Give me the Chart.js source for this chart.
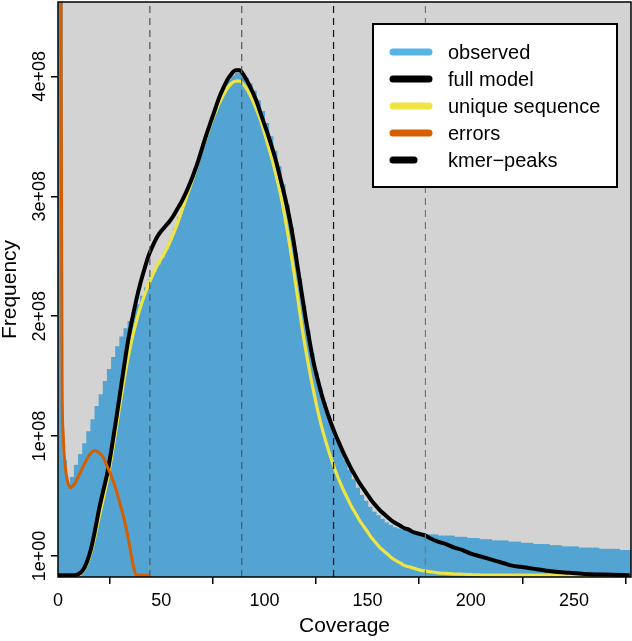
<!DOCTYPE html>
<html lang="en">
<head>
<meta charset="UTF-8">
<title>k-mer profile</title>
<script src="https://cdn.jsdelivr.net/npm/chart.js"></script>
<style>
  html, body { margin: 0; padding: 0; background: #fff; }
  canvas { display: block; }
</style>
</head>
<body>
<canvas id="profile" width="632" height="641"></canvas>
<script>
  // frequencies are given in units of 1e8
  const obsCov = [1, 3, 5, 7, 9, 11, 13, 15, 17, 19, 21, 23, 25, 27, 29, 31, 33, 35, 37, 39,
    41, 43, 45, 47, 49, 51, 53, 55, 57, 59, 61, 63, 65, 67, 69, 71, 73, 75, 77, 79,
    81, 83, 85, 87, 89, 91, 93, 95, 97, 99, 101, 103, 105, 107, 109, 111, 113, 115, 117, 119,
    121, 123, 125, 127, 129, 131, 133, 135, 137, 139, 141, 143, 145, 147, 149, 151, 153, 155, 157, 159,
    161, 163, 165, 167, 169, 171, 173, 175, 177, 179, 181, 183, 185, 187, 189, 191, 193, 195, 197, 199,
    201, 203, 205, 207, 209, 211, 213, 215, 217, 219, 221, 223, 225, 227, 229, 231, 233, 235, 237, 239,
    241, 243, 245, 247, 249, 251, 253, 255, 257, 259, 261, 263, 265, 267, 269, 271, 273, 275, 277];
  const obsFreq = [20, 0.8, 0.6, 0.66, 0.76, 0.85, 0.94, 1.04, 1.14, 1.25, 1.35, 1.46, 1.56, 1.66, 1.75, 1.83, 1.9, 1.96, 2.03, 2.1,
    2.17, 2.24, 2.31, 2.37, 2.43, 2.49, 2.56, 2.64, 2.73, 2.83, 2.93, 3.03, 3.13, 3.23, 3.34, 3.45, 3.56, 3.66, 3.75, 3.84,
    3.91, 3.97, 4.01, 4.03, 4.02, 3.99, 3.94, 3.88, 3.8, 3.71, 3.61, 3.5, 3.38, 3.25, 3.1, 2.93, 2.74, 2.53, 2.31, 2.09,
    1.88, 1.69, 1.53, 1.4, 1.28, 1.17, 1.07, 0.98, 0.89, 0.8, 0.72, 0.64, 0.57, 0.51, 0.46, 0.41, 0.37, 0.34, 0.31, 0.28,
    0.26, 0.24, 0.23, 0.22, 0.21, 0.2, 0.2, 0.19, 0.19, 0.18, 0.18, 0.18, 0.17, 0.17, 0.17, 0.17, 0.16, 0.16, 0.16, 0.15,
    0.15, 0.15, 0.14, 0.14, 0.14, 0.13, 0.13, 0.13, 0.13, 0.12, 0.12, 0.12, 0.11, 0.11, 0.11, 0.1, 0.1, 0.1, 0.1, 0.09,
    0.09, 0.09, 0.08, 0.08, 0.08, 0.08, 0.07, 0.07, 0.07, 0.07, 0.07, 0.06, 0.06, 0.06, 0.06, 0.06, 0.05, 0.05, 0.05];

  const modelCov = [0, 4, 8, 10, 12, 14, 16, 18, 20, 22, 24, 26, 28, 30, 32, 34, 36, 38, 40, 42,
    44, 46, 48, 50, 52, 54, 56, 58, 60, 62, 64, 66, 68, 70, 72, 74, 76, 78, 80, 82,
    84, 86, 88, 90, 92, 94, 96, 98, 100, 102, 104, 106, 108, 110, 112, 114, 116, 118, 120, 122,
    124, 126, 128, 130, 132, 134, 136, 138, 140, 142, 144, 146, 148, 150, 152, 154, 156, 158, 160, 162,
    164, 166, 168, 170, 172, 174, 176, 178, 180, 184, 188, 192, 196, 200, 204, 208, 212, 216, 220, 224,
    228, 232, 236, 240, 248, 256, 264, 277];
  const fullFreq = [-0.16, -0.16, -0.16, -0.15, -0.12, -0.05, 0.06, 0.22, 0.4, 0.55, 0.7, 0.9, 1.12, 1.35, 1.58, 1.8, 1.98, 2.14, 2.28, 2.4,
    2.51, 2.59, 2.66, 2.71, 2.75, 2.79, 2.84, 2.9, 2.96, 3.03, 3.11, 3.2, 3.3, 3.41, 3.52, 3.62, 3.72, 3.82, 3.9, 3.97,
    4.02, 4.05, 4.05, 4.01, 3.95, 3.88, 3.8, 3.7, 3.6, 3.5, 3.39, 3.27, 3.13, 2.99, 2.83, 2.64, 2.42, 2.2, 1.98, 1.78,
    1.6, 1.46, 1.33, 1.22, 1.12, 1.03, 0.95, 0.87, 0.8, 0.73, 0.67, 0.61, 0.56, 0.51, 0.46, 0.42, 0.38, 0.35, 0.32, 0.29,
    0.27, 0.25, 0.23, 0.22, 0.2, 0.19, 0.18, 0.17, 0.15, 0.12, 0.1, 0.07, 0.05, 0.02, 0.0, -0.02, -0.04, -0.06, -0.08, -0.09,
    -0.1, -0.11, -0.12, -0.13, -0.14, -0.15, -0.155, -0.16];
  const uniqFreq = [-0.16, -0.16, -0.16, -0.16, -0.13, -0.07, 0.03, 0.17, 0.33, 0.48, 0.64, 0.83, 1.04, 1.26, 1.47, 1.66, 1.82, 1.96, 2.08, 2.18,
    2.27, 2.35, 2.42, 2.48, 2.54, 2.61, 2.69, 2.78, 2.88, 2.98, 3.08, 3.18, 3.29, 3.4, 3.5, 3.6, 3.69, 3.77, 3.84, 3.9,
    3.94, 3.96, 3.96, 3.93, 3.88, 3.81, 3.73, 3.64, 3.53, 3.41, 3.29, 3.15, 3.0, 2.82, 2.62, 2.4, 2.17, 1.93, 1.72, 1.53,
    1.36, 1.2, 1.06, 0.94, 0.83, 0.73, 0.64, 0.56, 0.49, 0.42, 0.36, 0.3, 0.25, 0.2, 0.15, 0.11, 0.07, 0.04, 0.01, -0.02,
    -0.04, -0.06, -0.08, -0.09, -0.1, -0.11, -0.12, -0.125, -0.13, -0.14, -0.145, -0.15, -0.152, -0.155, -0.158, -0.16, -0.16, -0.16, -0.16, -0.16,
    -0.16, -0.16, -0.16, -0.16, -0.16, -0.16, -0.16, -0.16];

  const errCov = [1, 1.5, 2, 2.5, 3, 4, 5, 6, 7, 8, 10, 12, 14, 16, 18, 20, 22, 24, 26, 28, 30, 32, 34, 36, 37, 38, 40, 42, 44];
  const errFreq = [12, 4, 1.4, 1.02, 0.84, 0.68, 0.6, 0.57, 0.58, 0.6, 0.67, 0.74, 0.81, 0.86, 0.88, 0.86, 0.82, 0.74, 0.66, 0.56,
    0.44, 0.31, 0.15, -0.04, -0.12, -0.16, -0.16, -0.16, -0.16];

  const peakCov = [44.5, 89, 133.5, 178];
  const peakColors = ['#555555', '#555555', '#111111', '#777777'];

  const xTicks = [0, 50, 100, 150, 200, 250];
  const yTicks = [0, 1, 2, 3, 4];
  const yTickLabels = ['1e+00', '1e+08', '2e+08', '3e+08', '4e+08'];

  const legendNames = ['observed', 'full model', 'unique sequence', 'errors', 'kmer\u2212peaks'];
  const legendColors = ['#56B4E9', '#000000', '#F0E442', '#D55E00', '#000000'];

  const Y_MIN = -0.175, Y_MAX = 4.62, X_MAX = 277.6;
  const FONT = "'Liberation Sans', Arial, Helvetica, sans-serif";
  Chart.defaults.font.family = FONT;

  const toPoints = (xs, ys) => xs.map((x, i) => ({ x: x, y: ys[i] }));

  // grey panel, box, rotated y labels and the legend
  const frame = {
    id: 'frame',
    beforeDatasetsDraw(chart) {
      const { ctx, chartArea: a } = chart;
      ctx.save();
      ctx.fillStyle = '#d3d3d3';
      ctx.fillRect(a.left, a.top, a.right - a.left, a.bottom - a.top);
      ctx.restore();
    },
    afterDraw(chart) {
      const { ctx, chartArea: a } = chart;
      const ys = chart.scales.y;
      ctx.save();
      ctx.strokeStyle = '#000';
      ctx.lineWidth = 1.5;
      ctx.strokeRect(a.left, a.top, a.right - a.left, a.bottom - a.top);

      ctx.fillStyle = '#000';
      ctx.font = '18px ' + FONT;
      ctx.textAlign = 'center';
      ctx.textBaseline = 'alphabetic';
      yTicks.forEach((v, i) => {
        ctx.save();
        ctx.translate(45, ys.getPixelForValue(v));
        ctx.rotate(-Math.PI / 2);
        ctx.fillText(yTickLabels[i], 0, 0);
        ctx.restore();
      });

      // legend box
      const L = { left: 373, top: 24, right: 617, bottom: 187 };
      ctx.fillStyle = '#fff';
      ctx.fillRect(L.left, L.top, L.right - L.left, L.bottom - L.top);
      ctx.lineWidth = 2;
      ctx.strokeRect(L.left, L.top, L.right - L.left, L.bottom - L.top);
      ctx.font = '20px ' + FONT;
      ctx.textAlign = 'left';
      ctx.lineCap = 'round';
      legendNames.forEach((name, i) => {
        const y = 52 + i * 27;
        ctx.strokeStyle = legendColors[i];
        ctx.lineWidth = 7;
        ctx.beginPath();
        ctx.moveTo(393, y);
        ctx.lineTo(i === legendNames.length - 1 ? 414 : 429, y);
        ctx.stroke();
        ctx.fillStyle = '#000';
        ctx.fillText(name, 448, y + 7);
      });
      ctx.restore();
    }
  };

  const peakSets = peakCov.map((c, i) => ({
    type: 'line',
    label: 'kmer-peaks',
    data: [{ x: c, y: Y_MIN }, { x: c, y: Y_MAX }],
    borderColor: peakColors[i],
    borderWidth: 1.2,
    borderDash: [7, 5],
    pointRadius: 0,
    order: 0
  }));

  new Chart(document.getElementById('profile'), {
    type: 'bar',
    data: {
      datasets: [
        ...peakSets,
        {
          type: 'line', label: 'errors', data: toPoints(errCov, errFreq),
          borderColor: '#D55E00', borderWidth: 3, pointRadius: 0,
          cubicInterpolationMode: 'monotone', order: 1
        },
        {
          type: 'line', label: 'full model', data: toPoints(modelCov, fullFreq),
          borderColor: '#000000', borderWidth: 4, pointRadius: 0,
          cubicInterpolationMode: 'monotone', order: 2
        },
        {
          type: 'line', label: 'unique sequence', data: toPoints(modelCov, uniqFreq),
          borderColor: '#F0E442', borderWidth: 3.2, pointRadius: 0,
          cubicInterpolationMode: 'monotone', order: 3
        },
        {
          // bars overlap a little so no seams show between bins
          type: 'bar', label: 'observed', data: toPoints(obsCov, obsFreq),
          backgroundColor: 'rgb(83,164,210)', borderWidth: 0, base: Y_MIN,
          barPercentage: 1.3, categoryPercentage: 1, order: 4
        }
      ]
    },
    options: {
      responsive: false,
      animation: false,
      events: [],
      layout: { padding: { top: 2, right: 1, left: 0, bottom: 0 } },
      plugins: { legend: { display: false }, tooltip: { enabled: false } },
      scales: {
        x: {
          type: 'linear', min: 0, max: X_MAX, offset: false,
          afterBuildTicks: s => { s.ticks = xTicks.map(v => ({ value: v })); },
          afterFit: s => { s.height = 64; },
          ticks: {
            autoSkip: false, maxRotation: 0, padding: 6, color: '#000',
            font: { size: 18 }, callback: v => String(v)
          },
          grid: { drawOnChartArea: false, drawTicks: true, tickLength: 7, color: '#000', lineWidth: 1.5 },
          border: { display: false },
          title: {
            display: true, text: 'Coverage', color: '#000',
            font: { size: 21, lineHeight: 1 }, padding: { top: 0, bottom: 4 }
          }
        },
        y: {
          type: 'linear', min: Y_MIN, max: Y_MAX,
          afterBuildTicks: s => { s.ticks = yTicks.map(v => ({ value: v })); },
          afterFit: s => { s.width = 58; },
          ticks: { display: false },
          grid: { drawOnChartArea: false, drawTicks: true, tickLength: 7, color: '#000', lineWidth: 1.5 },
          border: { display: false },
          title: {
            display: true, text: 'Frequency', color: '#000',
            font: { size: 21, lineHeight: 1 }, padding: { top: 0, bottom: 0 }
          }
        }
      }
    },
    plugins: [frame]
  });
</script>
</body>
</html>
